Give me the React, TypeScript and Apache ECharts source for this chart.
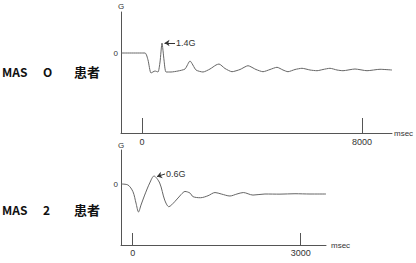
import React, { useEffect, useRef } from "react";
import * as echarts from "echarts";

// Top panel (MAS 0): time in msec, acceleration in G
const topTime = [-764, 109, 218, 327, 473, 582, 655, 727, 800, 873, 1055, 1309, 1564, 1745, 1964, 2218, 2473, 2691, 2800, 3018, 3273, 3564, 3855, 4145, 4400, 4655, 4909, 5127, 5309, 5564, 5818, 6109, 6364, 6582, 6836, 7091, 7309, 7745, 8182, 8655, 9091];
const topG = [0, 0, -0.98, -2.8, -2.52, -2.66, -1.26, 1.4, -0.98, -2.66, -2.66, -2.52, -2.24, -1.12, -2.38, -2.66, -2.24, -1.68, -1.54, -2.17, -2.62, -2.31, -1.78, -2.31, -2.62, -2.31, -2.0, -2.38, -2.62, -2.31, -2.14, -2.38, -2.48, -2.31, -2.14, -2.38, -2.48, -2.24, -2.48, -2.28, -2.38];

// Bottom panel (MAS 2)
const botTime = [-209, -84, 5, 59, 104, 148, 214, 304, 380, 482, 571, 645, 750, 868, 934, 1023, 1077, 1211, 1345, 1470, 1582, 1737, 1862, 1975, 2148, 2362, 2630, 2898, 3166, 3452];
const botG = [0, -0.075, -0.58, -1.43, -2.1, -1.58, -0.83, 0.075, 0.6, 0.075, -1.2, -1.7, -1.33, -0.77, -0.56, -0.68, -0.95, -1.03, -0.88, -0.64, -0.75, -0.9, -0.75, -0.64, -0.83, -0.75, -0.76, -0.73, -0.75, -0.75];

const topTicks = [0, 8000];
const botTicks = [0, 3000];
const topLabel = "1.4G";
const botLabel = "0.6G";
const panelTitles = [
  { mas: "MAS", score: "O", who: "患者" },
  { mas: "MAS", score: "2", who: "患者" },
];

const axisColor = "#555";
const textColor = "#333";

export default function App() {
  const ref = useRef<HTMLDivElement>(null);
  useEffect(() => {
    if (!ref.current) return;
    const chart = echarts.init(ref.current, null, { renderer: "svg" });
    const xAxisCommon = (min: number, max: number, ticks: number[], tickLen: number, gap: number, labelMargin: number) => ({
      type: "value",
      min,
      max,
      axisLine: { show: true, onZero: false, lineStyle: { color: axisColor, width: 1 } },
      axisTick: { show: true, inside: true, length: tickLen, customValues: ticks, lineStyle: { color: axisColor } },
      axisLabel: { customValues: ticks, formatter: (v: number) => String(v), fontSize: 9, color: textColor, margin: labelMargin, fontFamily: "Liberation Sans" },
      splitLine: { show: false },
      name: "msec",
      nameLocation: "end",
      nameGap: gap,
      nameTextStyle: { fontSize: 8, color: textColor, fontFamily: "Liberation Sans" },
    });
    const yAxisCommon = (min: number, max: number, gap: number) => ({
      type: "value",
      min,
      max,
      axisLine: { show: true, onZero: false, lineStyle: { color: axisColor, width: 1 } },
      axisTick: { show: false },
      axisLabel: { customValues: [0], fontSize: 8, color: textColor, margin: 3, fontFamily: "Liberation Sans" },
      splitLine: { show: false },
      name: "G",
      nameLocation: "end",
      nameGap: gap,
      nameTextStyle: { fontSize: 8, color: textColor, fontFamily: "Liberation Sans", align: "center" },
    });
    const arrowLine = (from: number[], to: number[], label: string) => ({
      silent: true,
      symbol: ["none", "arrow"],
      symbolSize: 5,
      lineStyle: { color: "#333", width: 1, type: "solid" },
      label: { show: true, position: "start", formatter: label, fontSize: 9, color: textColor, fontFamily: "Liberation Sans", distance: 1 },
      data: [[{ coord: from }, { coord: to }]],
    });
    const titleStyle = { fontSize: 12, fill: "#111", fontFamily: "Noto Sans CJK JP", fontWeight: "bold" };
    const titleGraphic = (y: number, t: { mas: string; score: string; who: string }) => [
      { type: "text", left: 2, top: y - 8, style: { ...titleStyle, text: t.mas } },
      { type: "text", left: 43, top: y - 8, style: { ...titleStyle, text: t.score } },
      { type: "text", left: 74, top: y - 8, style: { ...titleStyle, fontSize: 13, text: t.who } },
    ];
    chart.setOption({
      animation: false,
      grid: [
        { left: 121, right: 24, top: 12, bottom: 130 },
        { left: 121, right: 90, top: 150, bottom: 18 },
      ],
      xAxis: [
        { gridIndex: 0, ...xAxisCommon(-764, 9091, topTicks, 15, 2, 4) },
        { gridIndex: 1, ...xAxisCommon(-209, 3452, botTicks, 12, 5, 3) },
      ],
      yAxis: [
        { gridIndex: 0, ...yAxisCommon(-11.2, 5.74, 2) },
        { gridIndex: 1, ...yAxisCommon(-4.575, 2.55, 1) },
      ],
      graphic: [...titleGraphic(73, panelTitles[0]), ...titleGraphic(211, panelTitles[1])],
      series: [
        {
          type: "line",
          xAxisIndex: 0,
          yAxisIndex: 0,
          data: topTime.map((t, i) => [t, topG[i]]),
          showSymbol: false,
          smooth: 0.2,
          lineStyle: { color: "#666", width: 1 },
          markLine: arrowLine([1200, 1.4], [818, 1.4], topLabel),
        },
        {
          type: "line",
          xAxisIndex: 1,
          yAxisIndex: 1,
          data: botTime.map((t, i) => [t, botG[i]]),
          showSymbol: false,
          smooth: 0.3,
          lineStyle: { color: "#666", width: 1 },
          markLine: arrowLine([577, 0.75], [434, 0.56], botLabel),
        },
      ],
    });
    return () => chart.dispose();
  }, []);
  return <div ref={ref} style={{ width: 416, height: 263, position: "absolute", left: 0, top: 0, background: "#fff" }} />;
}
